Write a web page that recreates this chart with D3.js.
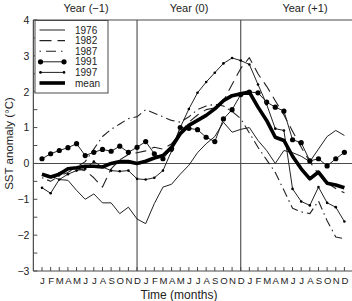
<!DOCTYPE html>
<html><head><meta charset="utf-8">
<script src="https://cdn.jsdelivr.net/npm/d3@7"></script>
<style>
html,body{margin:0;padding:0;background:#fff;}
svg{display:block;font-family:"Liberation Sans",Arial,Helvetica,sans-serif;}
</style></head>
<body>
<svg id="c" width="352" height="301"></svg>
<script>
const monthLabels = ["J","F","M","A","M","J","J","A","S","O","N","D"];
const yearLabels = ["Year (\u22121)","Year (0)","Year (+1)"];
const yTicks = [-3,-2,-1,0,1,2,3,4];
const seriesNames = ["1976","1982","1987","1991","1997","mean"];

const y1976 = [-0.3,-0.35,-0.45,-0.47,-0.75,-1.0,-0.85,-1.1,-1.1,-1.4,-1.22,-1.55,
               -1.68,-1.12,-0.66,-0.58,-0.3,-0.05,0.3,0.55,0.75,1.15,0.87,0.95,
               1.0,0.64,0.36,0.0,0.36,0.3,0.2,0.05,0.4,0.75,0.92,0.78];
const y1982 = [-0.3,-0.35,-0.25,-0.15,-0.15,-0.2,-0.4,-0.66,-0.15,0.1,0.25,0.3,
               0.35,0.45,0.4,0.55,0.85,1.15,1.35,1.5,1.55,1.75,2.2,2.65,
               2.95,2.5,2.15,1.75,1.35,0.9,0.45,0.05,-0.3,-0.55,-0.7,-0.82];
const y1987 = [-0.4,-0.5,-0.35,-0.25,-0.1,0.05,0.4,0.75,0.95,1.1,1.25,1.3,
               1.5,1.4,1.3,1.2,1.15,1.3,1.5,1.6,1.65,1.6,1.45,1.25,
               0.85,0.45,0.1,-0.25,-0.75,-1.25,-1.35,-1.4,-1.05,-1.6,-2.05,-2.1];
const y1991 = [0.13,0.27,0.36,0.44,0.55,0.22,0.31,0.39,0.34,0.48,0.31,0.45,
               0.61,0.27,0.13,0.41,1.0,0.98,0.94,0.73,0.61,1.24,1.5,1.92,
               1.99,1.97,1.71,1.57,1.46,0.66,0.58,0.07,0.13,-0.07,0.13,0.31];
const y1997 = [-0.68,-0.83,-0.45,-0.3,-0.2,-0.15,0.05,-0.1,-0.2,-0.22,-0.2,-0.43,
               -0.45,-0.4,-0.2,0.35,1.0,1.52,1.97,2.27,2.53,2.79,2.94,2.87,
               2.76,2.2,1.65,0.97,0.92,-0.71,-1.06,-1.17,-0.66,-1.1,-1.22,-1.62];
const yMean = [-0.3,-0.38,-0.3,-0.15,-0.12,-0.08,-0.08,-0.1,0.0,0.05,0.05,0.0,
               0.06,0.15,0.22,0.45,0.83,1.06,1.2,1.34,1.52,1.75,1.89,1.94,
               1.99,1.57,1.2,0.73,0.64,0.2,-0.15,-0.43,-0.24,-0.55,-0.6,-0.68];

const svg = d3.select("#c");
const x = d3.scaleLinear().domain([-1, 36]).range([33.36, 353.04]);
const y = d3.scaleLinear().domain([-3, 4]).range([271, 20]);
const ink = "#222", frame = "#4a4a4a";

const series = [
  {name:"1976", v:y1976, w:1, dash:null, dot:0},
  {name:"1982", v:y1982, w:1.1, dash:"11,6", dot:0},
  {name:"1987", v:y1987, w:1.1, dash:"1.5,4,9,4", dot:0},
  {name:"1991", v:y1991, w:1, dash:null, dot:2.6},
  {name:"1997", v:y1997, w:1, dash:null, dot:1.3},
  {name:"mean", v:yMean, w:3.6, dash:null, dot:0}
];

const months = d3.range(36);
// frame
svg.append("line").attr("x1",x(-1)).attr("x2",x(-1)).attr("y1",y(4)).attr("y2",y(-3)).attr("stroke",frame).attr("stroke-width",1.2);
svg.append("line").attr("x1",x(-1)).attr("x2",x(36)).attr("y1",y(4)).attr("y2",y(4)).attr("stroke",frame).attr("stroke-width",1.2);
svg.append("line").attr("x1",x(-1)).attr("x2",x(36)).attr("y1",y(-3)).attr("y2",y(-3)).attr("stroke",frame).attr("stroke-width",1.2);
svg.append("line").attr("x1",x(36)).attr("x2",x(36)).attr("y1",y(4)).attr("y2",y(-3)).attr("stroke",frame).attr("stroke-width",1.2);
// zero line
svg.append("line").attr("x1",x(-1)).attr("x2",x(36)).attr("y1",y(0)).attr("y2",y(0)).attr("stroke",frame).attr("stroke-width",1.1);
// year dividers
[11,23].forEach(i=>svg.append("line").attr("x1",x(i)).attr("x2",x(i)).attr("y1",y(4)).attr("y2",y(-3)).attr("stroke",frame).attr("stroke-width",1.1));

// y axis
const yAxis = d3.axisLeft(y).tickValues(yTicks).tickSize(0).tickPadding(4).tickFormat(d=>d<0?"\u2212"+Math.abs(d):d);
const ga = svg.append("g").attr("transform",`translate(${x(-1)},0)`).call(yAxis);
ga.select(".domain").remove();
ga.selectAll("text").attr("font-size",10.5).attr("fill",ink).attr("font-family","Liberation Sans, Arial, sans-serif");
// y ticks (inside, every 0.5)
d3.range(-3,4.01,0.5).forEach(v=>{
  svg.append("line").attr("x1",x(-1)).attr("x2",x(-1)+4).attr("y1",y(v)).attr("y2",y(v)).attr("stroke",frame).attr("stroke-width",1);
});
// x ticks inside
months.forEach(i=>{
  svg.append("line").attr("x1",x(i)).attr("x2",x(i)).attr("y1",y(-3)).attr("y2",y(-3)-4).attr("stroke",frame).attr("stroke-width",1);
});
// month labels via axis
const xAxis = d3.axisBottom(x).tickValues(months).tickSize(0).tickPadding(6).tickFormat(i=>monthLabels[i%12]);
const gx = svg.append("g").attr("transform",`translate(0,${y(-3)})`).call(xAxis);
gx.select(".domain").remove();
gx.selectAll("text").attr("font-size",9.6).attr("fill",ink).attr("font-family","Liberation Sans, Arial, sans-serif");

// titles
svg.append("text").attr("x",179).attr("y",298.5).attr("text-anchor","middle").attr("font-size",12).attr("fill",ink).text("Time (months)");
svg.append("text").attr("transform","translate(12.5,143.5) rotate(-90)").attr("text-anchor","middle").attr("font-size",11.5).attr("fill",ink).text("SST anomaly (\u00B0C)");
const yearCenters = [86, 189, 305];
yearLabels.forEach((t,k)=>svg.append("text").attr("x",yearCenters[k]).attr("y",12).attr("text-anchor","middle").attr("font-size",11).attr("fill",ink).text(t));

// series
const line = d3.line().x((d,i)=>x(i)).y(d=>y(d));
series.forEach(s=>{
  const p = svg.append("path").datum(s.v).attr("d",line).attr("fill","none")
    .attr("stroke", s.name==="mean" ? "#000" : ink).attr("stroke-width",s.w).attr("stroke-linejoin","round");
  if (s.dash) p.attr("stroke-dasharray",s.dash);
  if (s.dot) {
    svg.append("g").selectAll("circle").data(s.v).join("circle")
      .attr("cx",(d,i)=>x(i)).attr("cy",d=>y(d)).attr("r",s.dot).attr("fill","#000");
  }
});

// legend
const lg = svg.append("g");
lg.append("rect").attr("x",35).attr("y",20.5).attr("width",73).attr("height",72.5).attr("fill","#fff").attr("stroke",frame).attr("stroke-width",1);
const rowY = [30,40.6,51.2,61.8,72.4,83];
series.forEach((s,k)=>{
  const ly = rowY[k];
  const l = lg.append("line").attr("x1",39.5).attr("x2",65).attr("y1",ly).attr("y2",ly)
    .attr("stroke", s.name==="mean" ? "#000" : ink).attr("stroke-width", s.name==="mean"?3.6:s.w);
  if (s.dash) l.attr("stroke-dasharray", s.name==="1982" ? "12,6" : "1.5,5,10,5");
  if (s.dot) { [40.5,64].forEach(cx=>lg.append("circle").attr("cx",cx).attr("cy",ly).attr("r",s.dot).attr("fill","#000")); }
  lg.append("text").attr("x",75).attr("y",ly+3.6).attr("font-size",10).attr("fill",ink).text(seriesNames[k]);
});
</script>
</body></html>
